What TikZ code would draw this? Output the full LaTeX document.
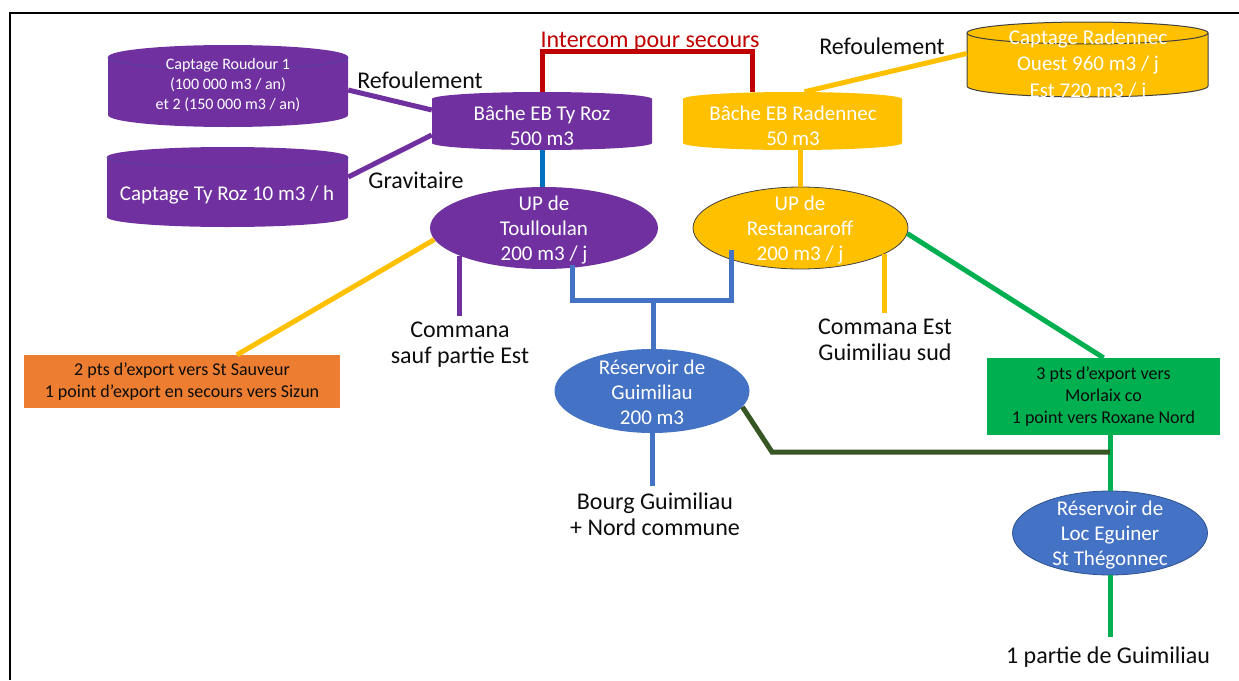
\documentclass[tikz,border=0pt]{standalone}
\usepackage{fontspec}
\setmainfont{Carlito}
\usetikzlibrary{shapes.geometric,calc}
\definecolor{cpurple}{HTML}{7030A0}
\definecolor{cyellow}{HTML}{FFC000}
\definecolor{corange}{HTML}{ED7D31}
\definecolor{cgreen}{HTML}{00B050}
\definecolor{cblue}{HTML}{4472C4}
\definecolor{cbluetwo}{HTML}{0070C0}
\definecolor{cred}{HTML}{C00000}
\definecolor{cdkgreen}{HTML}{375623}
\definecolor{ctop}{HTML}{5B3FA0}
\definecolor{coutl}{HTML}{404040}
\definecolor{cblueout}{HTML}{2F528F}
\definecolor{ctext}{HTML}{0D0D0D}
\newcommand\cylshape[7]{%
  \pgfmathsetmacro\cylrx{(#2-#1)/2}%
  \path[#6] (#1,#3+#5) -- (#1,#4-#5) arc[start angle=180,end angle=360,x radius=\cylrx pt,y radius=#5pt] -- (#2,#3+#5) arc[start angle=0,end angle=180,x radius=\cylrx pt,y radius=#5pt] -- cycle;%
  \path[#7] (#1,#3+#5) arc[start angle=180,end angle=360,x radius=\cylrx pt,y radius=#5pt];%
}
\tikzset{
  pipe/.style={line width=5pt},
  lbl/.style={font=\fontsize{24}{26}\selectfont, text=ctext, align=center, inner xsep=2pt, inner ysep=6pt},
  wtxt/.style={text=white, align=center, inner sep=0pt},
  oval/.style={ellipse, inner sep=0pt},
  holder/.style={inner sep=0pt},
  boxtxt/.style={font=\fontsize{18}{22}\selectfont, text=ctext, align=center, inner sep=0pt}
}
\begin{document}
\begin{tikzpicture}[x=1pt,y=-1pt]
\useasboundingbox (0,0) rectangle (1239,680);
\draw[line width=2.5pt] (10,680) -- (10,13) -- (1239,13);

% cylinders
\cylshape{108}{348}{45}{127}{12}{fill=cpurple}{draw=ctop,line width=1pt}
\cylshape{107}{348}{147}{227}{10}{fill=cpurple}{draw=ctop,line width=1pt}
\cylshape{432}{652}{92}{150}{7}{fill=cpurple}{}
\cylshape{683}{902}{92}{150}{7}{fill=cyellow}{}
\cylshape{967}{1208}{22}{97}{11}{fill=cyellow,draw=coutl,line width=1pt}{draw=coutl,line width=1pt}
\node[holder, minimum width=240pt, minimum height=82pt] (rou) at (228,86) {};
\node[holder, minimum width=241pt, minimum height=80pt] (tyr) at (227.5,187) {};
\node[holder, minimum width=220pt, minimum height=58pt] (bty) at (542,121) {};
\node[holder, minimum width=219pt, minimum height=58pt] (brad) at (792.5,121) {};
\node[holder, minimum width=241pt, minimum height=75pt] (crad) at (1087.5,59.5) {};

% ellipses
\node[oval, fill=cpurple, minimum width=228pt, minimum height=82pt] (upt) at (544,228) {};
\node[oval, fill=cyellow, draw=coutl, line width=0.8pt, minimum width=215pt, minimum height=82pt] (upr) at (800.5,228) {};
\node[oval, fill=cblue, minimum width=195pt, minimum height=84pt] (resg) at (652,391) {};
\node[oval, fill=cblue, draw=cblueout, line width=0.8pt, minimum width=195pt, minimum height=84pt] (resl) at (1110,533) {};

% boxes
\node[boxtxt, fill=corange, minimum width=316pt, minimum height=53pt] (exp1) at (182,381.5) {2 pts d’export vers St Sauveur\\1 point d’export en secours vers Sizun};
\node[boxtxt, fill=cgreen, minimum width=233pt, minimum height=77pt] (exp2) at (1103.5,396.5) {3 pts d’export vers\\Morlaix co\\1 point vers Roxane Nord};

% labels
\node[lbl, text=cred] (intercom) at (650,42) {Intercom pour secours};
\node[lbl] (refl) at (420,80) {Refoulement};
\node[lbl] (grav) at (416,180) {Gravitaire};
\node[lbl] (refr) at (882,46.5) {Refoulement};
\node[lbl] (commana) at (460,345) {Commana\\sauf partie Est};
\node[lbl] (commanae) at (885,340) {Commana Est\\Guimiliau sud};
\node[lbl] (bourg) at (655,514) {Bourg Guimiliau\\+ Nord commune};
\node[lbl, inner ysep=10pt] (partie) at (1108,657) {1 partie de Guimiliau};

% connectors
\draw[pipe, cpurple] ([yshift=-4pt]rou.east) -- ([yshift=11pt]bty.west);
\draw[pipe, cpurple] ([yshift=10pt]tyr.east) -- ([yshift=-14pt]bty.west);
\draw[pipe, cyellow] ([yshift=6pt]crad.west) -- ([xshift=12pt]brad.north);
\draw[pipe, cred] (bty.north) -- ++(0,-40) -| ([xshift=-40pt]brad.north);
\draw[pipe, cbluetwo] (bty.south) -- (bty.south |- upt.north);
\draw[pipe, cyellow] (upr.north |- brad.south) -- (upr.north);
\coordinate (jct) at (653,300);
\draw[pipe, cblue] ([xshift=28pt,yshift=4pt]upt.south) |- (jct) -| ([xshift=-69pt,yshift=-22pt]upr.center);
\draw[pipe, cblue] (jct) -- (jct |- resg.north);
\draw[pipe, cpurple] (upt.198) -- (upt.198 |- commana.north);
\draw[pipe, cyellow] (upt.186) -- ([xshift=55pt]exp1.north);
\draw[pipe, cyellow] (upr.343) -- (upr.343 |- commanae.north);
\draw[pipe, cgreen] (upr.357) -- (exp2.north);
\draw[pipe, cgreen] (resl.north |- exp2.south) -- (resl.north);
\coordinate (dgc) at (772,452);
\draw[pipe, cdkgreen] (resg.350) -- (dgc) -- (dgc -| resl.north);
\draw[pipe, cblue] (resg.south) -- (resg.south |- bourg.north);
\draw[pipe, cgreen] (resl.south) -- (resl.south |- partie.north);

% texts inside shapes
\node[wtxt, font=\fontsize{16}{20}\selectfont] (rout) at (228,85) {Captage Roudour 1\\(100 000 m3 / an)\\et 2 (150 000 m3 / an)};
\node[wtxt, font=\fontsize{21}{25}\selectfont] (tyrt) at (227,195) {Captage Ty Roz 10 m3 / h};
\node[wtxt, font=\fontsize{21}{25}\selectfont] (btyt) at (542,126) {Bâche EB Ty Roz\\500 m3};
\node[wtxt, font=\fontsize{21}{25}\selectfont] (bradt) at (793,126) {Bâche EB Radennec\\50 m3};
\node[wtxt, font=\fontsize{21}{26.5}\selectfont] (cradt) at (1088,65.5) {Captage Radennec\\Ouest 960 m3 / j\\Est 720 m3 / j};
\node[wtxt, font=\fontsize{21}{25}\selectfont] (uptt) at (544,230) {UP de\\Toulloulan\\200 m3 / j};
\node[wtxt, font=\fontsize{21}{25}\selectfont] (uprt) at (800,230) {UP de\\Restancaroff\\200 m3 / j};
\node[wtxt, font=\fontsize{21}{25}\selectfont] (resgt) at (652,392.5) {Réservoir de\\Guimiliau\\200 m3};
\node[wtxt, font=\fontsize{21}{25}\selectfont] (reslt) at (1110,535) {Réservoir de\\Loc Eguiner\\St Thégonnec};
\end{tikzpicture}
\end{document}
